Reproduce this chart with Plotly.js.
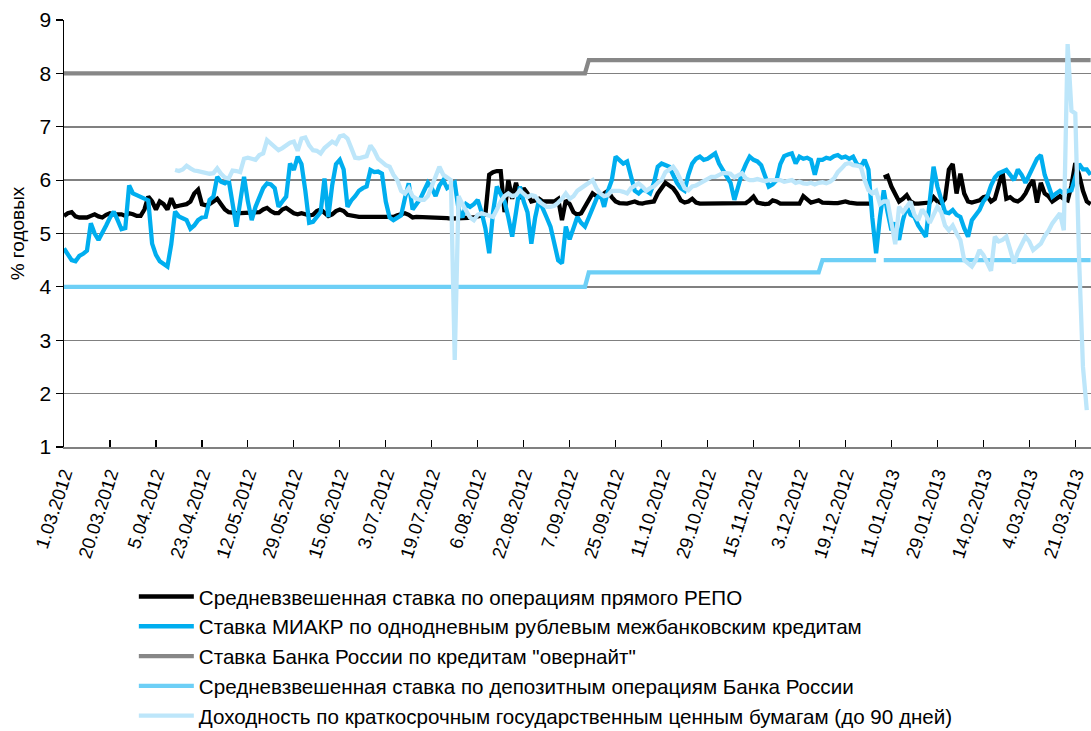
<!DOCTYPE html>
<html>
<head>
<meta charset="utf-8">
<script src="https://cdn.plot.ly/plotly-3.0.1.min.js"></script>
<style>html,body{margin:0;padding:0;background:#fff;}#chart{width:1091px;height:731px;}</style>
</head>
<body>
<div id="chart"></div>
<script>
// Tick labels (every 12th trading day)
const tickLabels = ['1.03.2012','20.03.2012','5.04.2012','23.04.2012','12.05.2012','29.05.2012','15.06.2012','3.07.2012','19.07.2012','6.08.2012','22.08.2012','7.09.2012','25.09.2012','11.10.2012','29.10.2012','15.11.2012','3.12.2012','19.12.2012','11.01.2013','29.01.2013','14.02.2013','4.03.2013','21.03.2013'];
const tickStep = 12;

const seriesNames = [
  'Средневзвешенная ставка по операциям прямого РЕПО',
  'Ставка МИАКР по однодневным рублевым межбанковским кредитам',
  'Ставка Банка России по кредитам "овернайт"',
  'Средневзвешенная ставка по депозитным операциям Банка России',
  'Доходность по краткосрочным государственным ценным бумагам (до 90 дней)'
];

// Средневзвешенная ставка РЕПО (daily)
const repo = [
5.33,5.38,5.4,5.32,5.3,5.3,5.3,5.33,5.36,5.32,
5.3,5.35,5.38,5.36,5.36,5.36,5.33,5.38,5.36,5.33,
5.33,5.45,5.69,5.6,5.45,5.6,5.55,5.45,5.66,5.5,
5.52,5.53,5.55,5.6,5.75,5.82,5.55,5.53,5.55,5.6,
5.65,5.55,5.45,5.4,5.38,5.38,5.38,5.38,5.38,5.38,
5.38,5.4,5.45,5.48,5.42,5.38,5.38,5.45,5.48,5.42,
5.38,5.36,5.38,5.36,5.34,5.35,5.42,5.45,5.4,5.33,
5.36,5.42,5.45,5.42,5.35,5.33,5.31,5.31,5.31,5.32,
5.31,5.31,5.31,5.32,5.31,5.31,5.31,5.34,5.36,5.38,
5.35,5.3,5.31,5.31,5.31,5.31,5.31,5.31,5.3,5.3,
5.29,5.28,5.28,5.29,5.3,5.3,5.29,5.3,5.32,5.34,
5.35,6.1,6.15,6.17,6.17,5.4,6.0,5.65,5.95,5.65,
5.85,5.75,5.6,5.62,5.65,5.6,5.6,5.62,5.6,5.65,
5.25,5.62,5.55,5.4,5.35,5.38,5.5,5.65,5.75,5.7,
5.68,5.75,5.8,5.68,5.6,5.57,5.56,5.56,5.58,5.6,
5.57,5.56,5.58,5.58,5.6,5.75,5.85,5.95,5.9,5.85,
5.75,5.62,5.58,5.6,5.65,5.58,5.56,5.56,5.57,5.56,
5.56,5.57,5.56,5.56,5.57,5.56,5.56,5.57,5.57,5.62,
5.69,5.58,5.56,5.55,5.56,5.62,5.6,5.56,5.56,5.56,
5.56,5.56,5.56,5.7,5.65,5.58,5.6,5.62,5.58,5.57,
5.57,5.57,5.57,5.58,5.6,5.58,5.56,5.56,5.56,5.56,
5.56,5.56,null,null,6.05,6.08,5.88,5.75,5.6,5.65,
5.72,5.6,5.56,5.56,5.56,5.56,5.58,5.68,5.6,5.57,
5.65,6.2,6.3,5.75,6.12,5.75,5.6,5.58,5.6,5.62,
5.68,5.7,5.6,5.65,5.9,6.15,5.65,5.68,5.62,5.6,
5.65,5.75,5.9,6.0,5.58,5.95,5.75,5.7,5.6,5.65,
5.7,5.65,5.62,5.9,6.32,6.1,5.8,5.6,5.55
];

// Ставка МИАКР (daily)
const miacr = [
4.72,4.6,4.5,4.48,4.58,4.62,4.68,5.19,5.0,4.88,
5.0,5.15,5.3,5.41,5.25,5.08,5.1,5.9,5.75,5.72,
5.7,5.67,5.62,4.81,4.6,4.48,4.42,4.38,4.8,5.41,
5.32,5.28,5.25,5.09,5.15,5.25,5.3,5.31,5.63,5.69,
6.06,5.97,5.94,6.0,5.55,5.13,5.6,6.06,5.6,5.25,
5.5,5.7,5.85,5.94,5.92,5.85,5.5,5.6,5.69,6.31,
6.19,6.44,6.3,5.8,5.2,5.22,5.3,5.4,6.03,5.31,
5.9,6.3,6.38,6.2,5.5,5.62,5.7,5.8,5.85,5.88,
6.19,6.15,6.16,6.12,5.6,5.3,5.25,5.3,5.34,5.66,
5.94,5.45,5.55,5.65,5.8,5.95,5.85,5.7,5.9,6.0,
5.85,5.9,5.95,5.45,5.3,5.55,5.5,5.55,5.63,5.4,
5.1,4.63,5.4,5.88,5.75,5.6,5.3,4.94,5.4,5.88,
5.6,5.4,4.81,5.3,5.63,5.44,5.3,5.13,4.8,4.5,
4.44,5.13,4.89,5.1,5.31,5.2,5.13,5.3,5.5,5.65,
5.75,5.5,5.8,6.0,6.44,6.38,6.31,6.35,6.1,5.8,
5.75,5.82,5.8,5.75,5.95,6.25,6.31,6.28,6.25,6.1,
5.95,5.85,5.8,6.1,6.31,6.4,6.44,6.38,6.4,6.45,
6.5,6.31,6.19,6.05,5.95,5.63,5.9,6.13,6.3,6.44,
6.38,6.35,6.28,6.1,5.88,5.92,6.0,6.3,6.45,6.48,
6.5,6.31,6.44,6.4,6.42,6.38,6.1,6.38,6.38,6.42,
6.4,6.45,6.47,6.42,6.44,6.4,6.44,6.3,6.25,6.38,
6.2,5.3,4.63,5.3,5.81,5.4,5.06,5.2,4.88,5.25,
5.5,5.35,5.31,5.15,5.06,4.94,5.6,6.25,5.88,5.6,
5.4,5.38,5.44,5.35,5.31,5.1,4.94,5.25,5.35,5.44,
5.6,5.69,5.9,6.05,6.13,6.15,6.19,6.1,6.0,6.2,
6.1,5.95,6.1,6.25,6.4,6.47,6.1,5.9,5.69,5.75,
5.8,5.75,5.8,5.81,6.05,6.3,6.2,6.2,6.1
];

// Ставка «овернайт» — step levels (category index, value)
const overnightIdx = [0, 136, 137, 268];
const overnightVal = [8.0, 8.0, 8.25, 8.25];

// Депозитные операции — step levels (category index, value), gap at year end
const depositIdx = [0, 136, 137, 197, 198, 212, 213, 214, 268];
const depositVal = [4.0, 4.0, 4.27, 4.27, 4.5, 4.5, null, 4.5, 4.5];

// Доходность по краткосрочным ГЦБ до 90 дней (daily, starts later)
const tbill = [
null,null,null,null,null,null,null,null,null,null,
null,null,null,null,null,null,null,null,null,null,
null,null,null,null,null,null,null,null,null,6.19,
6.17,6.2,6.27,6.22,6.18,6.17,6.15,6.12,6.12,6.13,
6.22,6.12,6.05,6.03,6.18,6.17,6.15,6.4,6.42,6.4,
6.38,6.47,6.5,6.75,6.68,6.62,6.56,6.6,6.65,6.7,
6.72,6.55,6.78,6.8,6.65,6.56,6.55,6.5,6.6,6.65,
6.72,6.68,6.82,6.84,6.78,6.6,6.42,6.41,6.42,6.45,
6.65,6.55,6.4,6.33,6.28,6.25,6.1,6.0,5.8,5.75,
5.85,5.7,5.65,5.63,5.63,5.7,5.9,6.1,6.25,6.1,
6.06,6.0,2.63,5.7,5.55,5.44,5.3,5.25,5.35,5.38,
5.35,5.32,5.31,5.45,5.6,5.7,5.75,5.7,5.72,5.81,
5.75,5.68,5.72,5.7,5.6,5.55,5.5,5.5,5.52,5.58,
5.65,5.75,5.65,5.7,5.8,5.85,5.9,5.95,6.0,5.85,
5.75,5.7,5.72,5.8,5.81,5.8,5.78,5.75,5.85,5.9,
5.94,5.88,5.8,5.85,5.88,5.95,6.0,6.15,6.2,6.25,
6.15,6.0,5.85,5.81,5.88,5.9,5.94,6.0,6.03,6.06,
6.06,6.1,6.13,6.13,6.12,6.05,6.1,6.13,6.03,6.0,
6.0,6.02,6.0,5.98,6.0,6.0,5.98,6.0,5.97,5.98,
6.0,5.95,5.97,5.94,5.93,5.95,5.92,5.95,5.96,5.94,
5.97,6.03,6.15,6.22,6.3,6.32,6.28,6.27,6.25,6.0,
5.81,5.75,5.8,5.55,5.6,5.6,5.2,4.8,5.5,5.4,
5.5,5.6,5.35,5.25,5.45,5.35,5.2,5.35,5.5,5.4,
5.15,5.06,5.15,5.0,4.88,4.5,4.44,4.38,4.5,4.69,
4.6,4.44,4.3,4.94,4.85,4.88,4.94,4.7,4.44,4.65,
4.8,4.94,4.85,4.69,4.75,4.81,4.95,5.05,5.19,5.3,
5.38,5.06,8.55,7.3,7.25,4.5,2.5,1.69
];

const colors = ['#000000', '#00AEEF', '#878787', '#6DCFF6', '#BDE6FA'];
const idx = arr => arr.map((_, i) => i);
const FONT = 'Liberation Sans, Arial, sans-serif';

const traces = [
  {x: idx(repo), y: repo, name: seriesNames[0], color: colors[0]},
  {x: idx(miacr), y: miacr, name: seriesNames[1], color: colors[1]},
  {x: overnightIdx, y: overnightVal, name: seriesNames[2], color: colors[2]},
  {x: depositIdx, y: depositVal, name: seriesNames[3], color: colors[3]},
  {x: idx(tbill), y: tbill, name: seriesNames[4], color: colors[4]}
].map(t => ({
  type: 'scatter', mode: 'lines', x: t.x, y: t.y, name: t.name,
  connectgaps: false,
  line: {color: t.color, width: 4.3, shape: 'linear'},
  hoverinfo: 'skip'
}));

const layout = {
  width: 1091, height: 731,
  margin: {l: 64, r: 0, t: 20, b: 284, autoexpand: false},
  paper_bgcolor: '#ffffff', plot_bgcolor: '#ffffff',
  font: {family: FONT, color: '#000'},
  showlegend: true,
  xaxis: {
    automargin: false,
    range: [0, 268.1], showgrid: false, zeroline: false,
    tickmode: 'array',
    tickvals: tickLabels.map((_, i) => i * tickStep),
    ticktext: tickLabels,
    tickangle: -72,
    ticks: 'inside', ticklen: 7, tickwidth: 1.2, tickcolor: '#000',
    ticklabelstandoff: 7,
    showline: true, linecolor: '#808080', linewidth: 2,
    tickfont: {size: 18.5, family: FONT, color: '#000'}
  },
  yaxis: {
    automargin: false,
    range: [1, 9], dtick: 1, tick0: 1,
    showgrid: true, gridcolor: '#808080', gridwidth: 1.5,
    zeroline: false,
    showline: true, linecolor: '#000', linewidth: 1.5,
    ticks: 'outside', ticklen: 7, tickwidth: 1.2, tickcolor: '#000',
    tickfont: {size: 21, family: FONT, color: '#000'},
    title: {text: '% годовых', font: {size: 19, family: FONT, color: '#000'}, standoff: 10}
  },
  legend: {
    x: 0.068, xanchor: 'left', y: -0.3035, yanchor: 'top',
    orientation: 'v', traceorder: 'normal',
    font: {size: 20.6, family: FONT, color: '#000'},
    bgcolor: 'rgba(0,0,0,0)', itemwidth: 55
  }
};

Plotly.newPlot('chart', traces, layout, {staticPlot: true, displayModeBar: false});
</script>
</body>
</html>
